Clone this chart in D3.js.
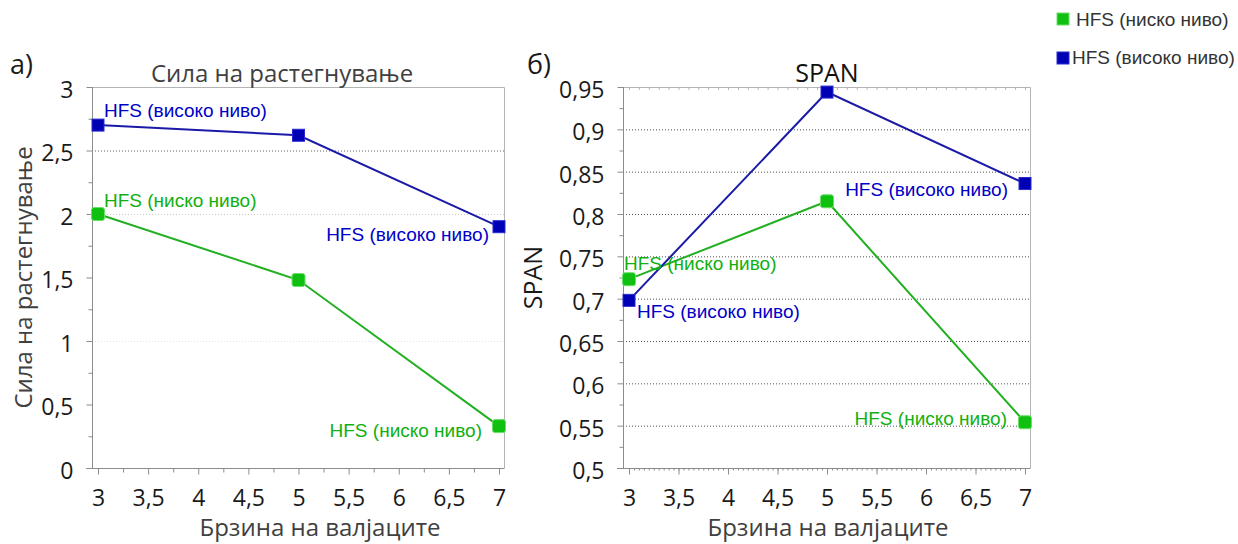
<!DOCTYPE html>
<html>
<head>
<meta charset="utf-8">
<script src="https://cdn.jsdelivr.net/npm/d3@7"></script>
<style>
  html, body { margin: 0; padding: 0; background: #fff; }
  svg { display: block; }
</style>
</head>
<body>
<svg id="chart" width="1238" height="544"></svg>
<script>
// Roller speed values on the x axis
const speeds = [3, 5, 7];
const xTickValues = [3, 3.5, 4, 4.5, 5, 5.5, 6, 6.5, 7];

// Series names
const lowName = "HFS (ниско ниво)";
const highName = "HFS (високо ниво)";

// Panel а) tensile strength
const forceLow = [2.0, 1.48, 0.33];
const forceHigh = [2.70, 2.62, 1.90];
const forceTicks = [0, 0.5, 1, 1.5, 2, 2.5, 3];

// Panel б) SPAN
const spanLow = [0.723, 0.815, 0.554];
const spanHigh = [0.698, 0.944, 0.836];
const spanTicks = [0.5, 0.55, 0.6, 0.65, 0.7, 0.75, 0.8, 0.85, 0.9, 0.95];

const fmt = v => String(v).replace(".", ",");

const COL = {
  blueLine: "#1a1aa6", blueFill: "#0000b4", blueEdge: "#2a2ad0",
  greenLine: "#22b022", greenFill: "#10c010", greenEdge: "#6ae06a",
  axis: "#8c8c8c", text: "#1a1a1a", title: "#404040"
};
const tickFont = "'Open Sans', 'Noto Sans', sans-serif";
const labelFont = "'Liberation Sans', Arial, sans-serif";

const svg = d3.select("#chart");

function panel(cfg) {
  const g = svg.append("g");
  const x = d3.scaleLinear().domain([3, 7]).range(cfg.xRange);
  const y = d3.scaleLinear().domain(cfg.yDomain).range([cfg.bottom, cfg.top]);

  // gridlines
  cfg.grid.forEach(gl => {
    g.append("line")
      .attr("x1", cfg.left).attr("x2", cfg.right)
      .attr("y1", y(gl.v) + 0.5).attr("y2", y(gl.v) + 0.5)
      .attr("stroke", gl.c).attr("stroke-width", 1)
      .attr("stroke-dasharray", "1,2");
  });

  // frame (top and right borders)
  g.append("path")
    .attr("d", `M${cfg.left},${cfg.top + 0.5}H${cfg.right + 0.5}V${cfg.bottom}`)
    .attr("fill", "none").attr("stroke", "#b4b4b4").attr("stroke-width", 1);

  if (cfg.topTicks) {
    g.selectAll(".tt").data(d3.range(3, 7.001, 0.1)).join("line")
      .attr("x1", d => x(d) + 0.5).attr("x2", d => x(d) + 0.5)
      .attr("y1", cfg.top).attr("y2", cfg.top + 3)
      .attr("stroke", "#b4b4b4");
  }

  // y axis: major ticks with labels, minor ticks in between
  const yAxis = d3.axisLeft(y).tickValues(cfg.yTicks).tickFormat(fmt).tickSize(6).tickPadding(13);
  const ya = g.append("g").attr("transform", `translate(${cfg.left + 0.5},0)`).call(yAxis);
  ya.select(".domain").attr("stroke", COL.axis).attr("d", `M0,${cfg.top}V${cfg.bottom + 0.5}`);
  ya.selectAll(".tick line").attr("stroke", COL.axis);
  ya.selectAll(".tick text").attr("font-family", tickFont).attr("font-size", 23)
    .attr("fill", COL.text).attr("dy", "0.45em");
  const yMinor = d3.axisLeft(y).tickValues(cfg.yMinor).tickFormat("").tickSize(4);
  const ym = g.append("g").attr("transform", `translate(${cfg.left + 0.5},0)`).call(yMinor);
  ym.select(".domain").remove();
  ym.selectAll(".tick line").attr("stroke", COL.axis);

  // x axis
  const xAxis = d3.axisBottom(x).tickValues(xTickValues).tickFormat(fmt).tickSize(6).tickPadding(10);
  const xa = g.append("g").attr("transform", `translate(0,${cfg.bottom + 0.5})`).call(xAxis);
  xa.select(".domain").attr("stroke", COL.axis).attr("d", `M${cfg.left - 6},0H${cfg.right + 0.5}`);
  xa.selectAll(".tick line").attr("stroke", COL.axis);
  xa.selectAll(".tick text").attr("font-family", tickFont).attr("font-size", 23)
    .attr("fill", COL.text).attr("dy", "0.92em");
  const xMinor = d3.axisBottom(x).tickValues(cfg.xMinor).tickFormat("").tickSize(cfg.xMinorSize);
  const xm = g.append("g").attr("transform", `translate(0,${cfg.bottom + 0.5})`).call(xMinor);
  xm.select(".domain").remove();
  xm.selectAll(".tick line").attr("stroke", COL.axis);

  // titles
  g.append("text").attr("x", cfg.titleX).attr("y", 82).attr("text-anchor", "middle")
    .attr("font-family", tickFont).attr("font-size", cfg.titleSize).attr("fill", cfg.titleColor)
    .text(cfg.title);
  g.append("text").attr("x", cfg.letterX).attr("y", 74)
    .attr("font-family", tickFont).attr("font-size", 27).attr("fill", COL.text)
    .text(cfg.letter);
  g.append("text").attr("x", cfg.xTitleX).attr("y", 536).attr("text-anchor", "middle")
    .attr("font-family", tickFont).attr("font-size", 24).attr("fill", COL.title)
    .text("Брзина на валјаците");
  g.append("text")
    .attr("transform", `translate(${cfg.yTitleX},${(cfg.top + cfg.bottom) / 2}) rotate(-90)`)
    .attr("text-anchor", "middle")
    .attr("font-family", tickFont).attr("font-size", cfg.yTitleSize).attr("fill", cfg.yTitleColor)
    .text(cfg.yTitle);

  // series
  const line = d3.line().x((d, i) => x(speeds[i])).y(d => y(d));
  const series = [
    { vals: cfg.low, line: COL.greenLine, fill: COL.greenFill, edge: COL.greenEdge, size: 13, rx: 2.5 },
    { vals: cfg.high, line: COL.blueLine, fill: COL.blueFill, edge: COL.blueEdge, size: 12, rx: 0 }
  ];
  series.forEach(s => {
    g.append("path").datum(s.vals).attr("d", line)
      .attr("fill", "none").attr("stroke", s.line).attr("stroke-width", 2);
  });
  series.forEach(s => {
    g.selectAll(null).data(s.vals).join("rect")
      .attr("x", (d, i) => x(speeds[i]) - s.size / 2)
      .attr("y", d => y(d) - s.size / 2)
      .attr("width", s.size).attr("height", s.size).attr("rx", s.rx)
      .attr("fill", s.fill).attr("stroke", s.edge).attr("stroke-width", 1);
  });

  // data labels
  cfg.labels.forEach(l => {
    g.append("text").attr("x", l.x).attr("y", l.y).attr("text-anchor", l.anchor)
      .attr("font-family", labelFont).attr("font-size", 19)
      .attr("fill", l.high ? "#0000c8" : "#10b010")
      .text(l.high ? highName : lowName);
  });
  return { x, y };
}

panel({
  left: 92, right: 504, top: 87, bottom: 468, xRange: [98, 499],
  yDomain: [0, 3], yTicks: forceTicks, yMinor: [0.25, 0.75, 1.25, 1.75, 2.25, 2.75],
  xMinor: [3.25, 3.75, 4.25, 4.75, 5.25, 5.75, 6.25, 6.75], xMinorSize: 4,
  grid: [{ v: 2.5, c: "#606060" }, { v: 2, c: "#c8c8c8" }, { v: 1, c: "#e4e4e4" }],
  topTicks: false,
  title: "Сила на растегнување", titleX: 282, titleSize: 24, titleColor: COL.title,
  letter: "а)", letterX: 10,
  xTitleX: 320, yTitle: "Сила на растегнување", yTitleX: 32, yTitleSize: 24, yTitleColor: COL.title,
  low: forceLow, high: forceHigh,
  labels: [
    { high: true, x: 104, y: 117, anchor: "start" },
    { high: false, x: 104, y: 207, anchor: "start" },
    { high: true, x: 489, y: 241, anchor: "end" },
    { high: false, x: 482, y: 437, anchor: "end" }
  ]
});

panel({
  left: 623, right: 1030, top: 87, bottom: 468, xRange: [629, 1025],
  yDomain: [0.5, 0.95], yTicks: spanTicks,
  yMinor: d3.range(0.525, 0.95, 0.05),
  xMinor: d3.range(3, 7.001, 0.05), xMinorSize: 2,
  grid: [0.55, 0.6, 0.65, 0.7, 0.75, 0.8, 0.85, 0.9].map(v => ({ v, c: "#505050" })),
  topTicks: true,
  title: "SPAN", titleX: 827, titleSize: 25, titleColor: "#111",
  letter: "б)", letterX: 527,
  xTitleX: 828, yTitle: "SPAN", yTitleX: 542, yTitleSize: 25, yTitleColor: COL.text,
  low: spanLow, high: spanHigh,
  labels: [
    { high: false, x: 624, y: 270, anchor: "start" },
    { high: true, x: 637, y: 318, anchor: "start" },
    { high: true, x: 1008, y: 196, anchor: "end" },
    { high: false, x: 1007, y: 425, anchor: "end" }
  ]
});

// legend
const legend = svg.append("g");
[{ name: lowName, fill: COL.greenFill, edge: COL.greenEdge, y: 13, tx: 1076, ty: 26 },
 { name: highName, fill: COL.blueFill, edge: COL.blueEdge, y: 52, tx: 1072, ty: 64 }].forEach(d => {
  legend.append("rect").attr("x", 1057).attr("y", d.y).attr("width", 12).attr("height", 12)
    .attr("fill", d.fill).attr("stroke", d.edge).attr("stroke-width", 1);
  legend.append("text").attr("x", d.tx).attr("y", d.ty)
    .attr("font-family", labelFont).attr("font-size", 19).attr("fill", "#333")
    .text(d.name);
});
</script>
</body>
</html>
